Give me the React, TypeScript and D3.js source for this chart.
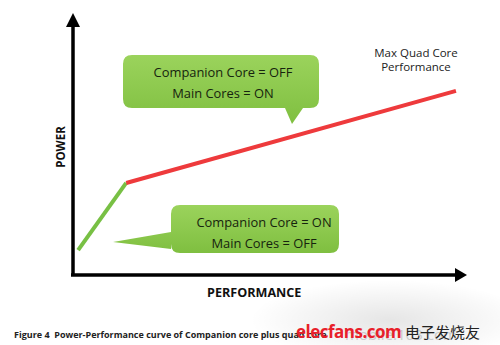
import React from "react";
import * as d3 from "d3";

const W = 500;
const H = 345;

// curve points (performance %, power %)
const greenPerf = [1.3, 13.5];
const greenPower = [9.6, 35.4];
const redPerf = [13.5, 97.2];
const redPower = [35.4, 70.8];

const callout1Lines = ["Companion Core = OFF", "Main Cores = ON"];
const callout2Lines = ["Companion Core = ON", "Main Cores = OFF"];
const maxLabelLines = ["Max Quad Core", "Performance"];
const caption = "Figure 4  Power-Performance curve of Companion core plus quad core";

export default function App() {
  const x = d3.scaleLinear().domain([0, 100]).range([73, 467]);
  const y = d3.scaleLinear().domain([0, 100]).range([275, 15]);
  const line = d3
    .line<[number, number]>()
    .x((d) => x(d[0]))
    .y((d) => y(d[1]));
  const greenPts = greenPerf.map((p, i) => [p, greenPower[i]] as [number, number]);
  const redPts = redPerf.map((p, i) => [p, redPower[i]] as [number, number]);

  const font = "'Open Sans', 'DejaVu Sans', sans-serif";

  // callout shapes
  const c1 = { x0: 123, y0: 55, x1: 319, y1: 108, r: 9 };
  const c1Path = `M${c1.x0 + c1.r},${c1.y0} H${c1.x1 - c1.r} Q${c1.x1},${c1.y0} ${c1.x1},${c1.y0 + c1.r} V${c1.y1 - c1.r} Q${c1.x1},${c1.y1} ${c1.x1 - c1.r},${c1.y1} H303 L292,124 L285,${c1.y1} H${c1.x0 + c1.r} Q${c1.x0},${c1.y1} ${c1.x0},${c1.y1 - c1.r} V${c1.y0 + c1.r} Q${c1.x0},${c1.y0} ${c1.x0 + c1.r},${c1.y0} Z`;
  const c2 = { x0: 171, y0: 205, x1: 339, y1: 253, r: 9 };
  const c2Path = `M${c2.x0 + c2.r},${c2.y0} H${c2.x1 - c2.r} Q${c2.x1},${c2.y0} ${c2.x1},${c2.y0 + c2.r} V${c2.y1 - c2.r} Q${c2.x1},${c2.y1} ${c2.x1 - c2.r},${c2.y1} H${c2.x0 + c2.r} Q${c2.x0},${c2.y1} ${c2.x0},${c2.y1 - c2.r} V249 L113,242 L${c2.x0},232 V${c2.y0 + c2.r} Q${c2.x0},${c2.y0} ${c2.x0 + c2.r},${c2.y0} Z`;

  return (
    <svg width={W} height={H} style={{ position: "absolute", left: 0, top: 0, background: "#fff" }}>
      <defs>
        <linearGradient id="cg" x1="0" y1="0" x2="0" y2="1">
          <stop offset="0" stopColor="#9bd35c" />
          <stop offset="1" stopColor="#7fbf40" />
        </linearGradient>
        <radialGradient id="shade" cx="0.5" cy="0.5" r="0.5">
          <stop offset="0" stopColor="#000" stopOpacity="0.10" />
          <stop offset="1" stopColor="#000" stopOpacity="0" />
        </radialGradient>
      </defs>
      <rect x={0} y={0} width={W} height={H} fill="#fff" />
      <ellipse cx={390} cy={320} rx={140} ry={40} fill="url(#shade)" />

      {/* axes */}
      <line x1={x(0)} y1={y(0)} x2={x(0)} y2={y(100) + 10} stroke="#000" strokeWidth={3.5} />
      <path d={`M${x(0) - 7},${y(100) + 12} L${x(0)},${y(100) - 2} L${x(0) + 7},${y(100) + 12} Z`} fill="#000" />
      <line x1={x(0) - 2} y1={y(0)} x2={x(100) - 10} y2={y(0)} stroke="#000" strokeWidth={3.5} />
      <path d={`M${x(100) - 12},${y(0) - 7} L${x(100)},${y(0)} L${x(100) - 12},${y(0) + 7} Z`} fill="#000" />

      <text x={62} y={147} transform="rotate(-90 62 147)" textAnchor="middle" dominantBaseline="middle"
        fontFamily={font} fontWeight="bold" fontSize={11.5} fill="#111">POWER</text>
      <text x={207} y={297} fontFamily={font} fontWeight="bold" fontSize={12.6} fill="#111">PERFORMANCE</text>

      {/* curve */}
      <path d={line(greenPts) || ""} stroke="#78c044" strokeWidth={4} fill="none" />
      <path d={line(redPts) || ""} stroke="#ee3a3c" strokeWidth={4} fill="none" />

      {/* callouts */}
      <path d={c1Path} fill="url(#cg)" />
      {callout1Lines.map((t, i) => (
        <text key={t} x={223} y={76.5 + i * 21} textAnchor="middle" fontFamily={font} fontSize={12.9} fill="#16230e">{t}</text>
      ))}
      <path d={c2Path} fill="url(#cg)" />
      {callout2Lines.map((t, i) => (
        <text key={t} x={264} y={226.5 + i * 21} textAnchor="middle" fontFamily={font} fontSize={12.9} fill="#16230e">{t}</text>
      ))}

      {maxLabelLines.map((t, i) => (
        <text key={t} x={416} y={57 + i * 14} textAnchor="middle" fontFamily={font} fontSize={11.5} fill="#222">{t}</text>
      ))}

      {/* caption */}
      <text x={14} y={338} fontFamily={font} fontWeight="bold" fontSize={9} fill="#222" style={{ whiteSpace: "pre" }}>{caption}</text>
      <text x={345} y={340} fontFamily={font} fontSize={15} fill="#bbb" opacity={0.7}>mobile.163.com</text>
      <text x={296} y={338} fontFamily={font} fontWeight="bold" fontSize={17} fill="#e8202a" letterSpacing={-0.5}>elecfans.com</text>
      <text x={405} y={338} fontFamily="'Noto Sans CJK SC', sans-serif" fontSize={15} fill="#222">电子发烧友</text>
    </svg>
  );
}
